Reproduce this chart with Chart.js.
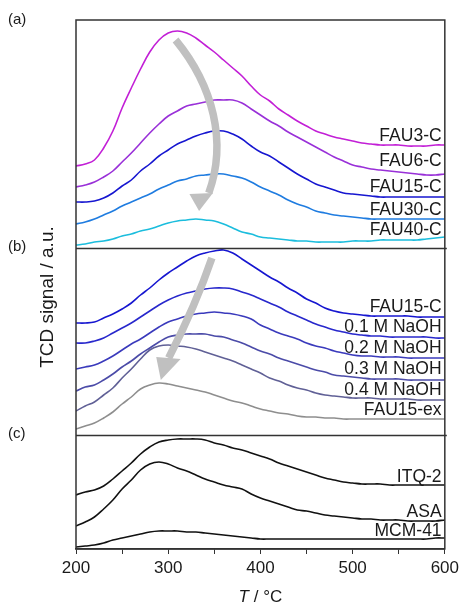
<!DOCTYPE html>
<html>
<head>
<meta charset="utf-8">
<script src="https://cdn.jsdelivr.net/npm/chart.js@4.4.1/dist/chart.umd.min.js"></script>
<style>
  html, body { margin: 0; padding: 0; background: #fff; }
  .canvas-container { position: relative; width: 463px; height: 605px; }
</style>
</head>
<body>
<div class="canvas-container"><canvas id="tpd"></canvas></div>
<script>
// temperature grid (°C)
const temps = [200, 210, 220, 230, 240, 250, 260, 270, 280, 290, 300, 310, 320, 330, 340, 350, 360, 370, 380, 390, 400,
  410, 420, 430, 440, 450, 460, 470, 480, 490, 500, 510, 520, 530, 540, 550, 560, 570, 580, 590, 600];
const xTicks = [200, 300, 400, 500, 600];

// (a) FAUx-C, offset traces (a.u.)
const fau3C = [383, 385, 389, 401, 418, 441, 461, 480, 497, 509, 516, 518, 516, 511, 504, 497, 489, 481, 473, 463, 454,
  448, 440, 434, 428, 423, 418, 415, 412, 410, 408, 406, 405, 404, 404, 404, 403, 403, 403, 404, 404];
const fau6C = [362, 364, 367, 372, 378, 387, 396, 406, 416, 425, 433, 438, 443, 445, 447, 449, 449, 449, 446, 440, 434,
  428, 423, 417, 412, 407, 402, 397, 392, 388, 384, 382, 380, 379, 378, 377, 376, 375, 374, 374, 375];
const fau15C = [347, 347, 348, 351, 356, 363, 369, 378, 385, 393, 399, 405, 409, 413, 416, 418, 418, 415, 410, 403, 397,
  393, 387, 381, 375, 370, 365, 362, 359, 356, 355, 354, 353, 352, 352, 352, 352, 352, 352, 352, 352];
const fau30C = [325, 327, 330, 334, 338, 343, 347, 351, 355, 360, 364, 368, 370, 373, 374, 375, 375, 373, 371, 367, 362,
  358, 354, 349, 345, 342, 338, 336, 334, 333, 332, 331, 330, 330, 330, 330, 330, 330, 330, 330, 330];
const fau40C = [304, 305, 307, 308, 310, 313, 315, 318, 320, 323, 326, 328, 329, 330, 329, 328, 325, 321, 317, 315, 312,
  311, 310, 309, 308, 308, 307, 307, 307, 307, 308, 308, 308, 309, 309, 309, 309, 309, 310, 311, 312];

// (b) FAU15-C after NaOH treatment
const fau15Cb = [226, 226, 227, 231, 235, 240, 246, 254, 261, 269, 276, 282, 288, 293, 296, 298, 299, 296, 290, 284, 278,
  272, 267, 261, 256, 250, 246, 241, 238, 236, 235, 234, 233, 233, 233, 233, 233, 232, 232, 232, 232];
const naoh01 = [206, 206, 208, 211, 216, 221, 226, 232, 238, 244, 249, 253, 256, 258, 260, 261, 261, 260, 257, 254, 250,
  246, 242, 237, 233, 229, 225, 222, 219, 217, 215, 214, 213, 213, 212, 212, 212, 212, 212, 211, 211];
const naoh02 = [180, 182, 184, 188, 193, 199, 205, 210, 216, 222, 227, 230, 233, 235, 236, 237, 236, 235, 233, 230, 224,
  220, 216, 213, 210, 206, 203, 201, 198, 196, 194, 193, 193, 192, 192, 192, 191, 191, 191, 191, 191];
const naoh03 = [158, 162, 164, 169, 175, 182, 188, 195, 201, 207, 212, 214, 215, 215, 215, 213, 212, 209, 206, 202, 198,
  195, 191, 188, 185, 182, 179, 177, 174, 173, 172, 171, 170, 170, 170, 170, 169, 169, 169, 169, 169];
const naoh04 = [138, 143, 147, 154, 161, 171, 180, 190, 199, 203, 204, 203, 202, 200, 197, 194, 191, 188, 184, 180, 176,
  171, 168, 164, 161, 159, 156, 154, 153, 152, 151, 151, 151, 150, 150, 150, 150, 149, 149, 149, 149];
const fau15ex = [120, 123, 126, 131, 137, 145, 152, 160, 164, 166, 165, 163, 161, 159, 157, 154, 151, 148, 146, 143, 140,
  138, 136, 135, 133, 132, 132, 131, 131, 130, 130, 130, 130, 130, 130, 130, 130, 130, 130, 130, 130];

// (c) reference materials
const itq2 = [54, 57, 59, 63, 70, 78, 86, 95, 102, 107, 109, 110, 110, 110, 109, 106, 104, 101, 99, 96, 93,
  90, 86, 83, 80, 77, 74, 71, 69, 67, 66, 65, 65, 65, 64, 64, 64, 64, 64, 64, 64];
const asa = [23, 27, 32, 40, 49, 60, 69, 79, 85, 87, 85, 81, 78, 74, 70, 67, 64, 62, 60, 55, 51,
  48, 45, 42, 39, 38, 36, 34, 33, 32, 31, 30, 30, 29, 29, 29, 28, 28, 28, 28, 29];
const mcm41 = [2, 3, 4, 6, 9, 11, 13, 15, 17, 18, 18, 18, 17, 17, 16, 15, 14, 13, 12, 11, 10,
  10, 10, 10, 10, 10, 10, 10, 10, 10, 10, 10, 10, 10, 10, 10, 10, 10, 10, 11, 11];

// panel borders (a/b, b/c) on the signal axis
const panelBreaks = [301, 114];

const series = [
  { name: 'FAU3-C', data: fau3C, color: '#c21fd6', lift: 9 },
  { name: 'FAU6-C', data: fau6C, color: '#9930d8', lift: 13 },
  { name: 'FAU15-C', data: fau15C, color: '#1616d0', lift: 10 },
  { name: 'FAU30-C', data: fau30C, color: '#1f7ce0', lift: 9 },
  { name: 'FAU40-C', data: fau40C, color: '#1bbddd', lift: 7 },
  { name: 'FAU15-C', data: fau15Cb, color: '#1616d0', lift: 10 },
  { name: '0.1 M NaOH', data: naoh01, color: '#2828cc', lift: 11 },
  { name: '0.2 M NaOH', data: naoh02, color: '#3a3abc', lift: 10 },
  { name: '0.3 M NaOH', data: naoh03, color: '#4b4ba8', lift: 11 },
  { name: '0.4 M NaOH', data: naoh04, color: '#606096', lift: 10 },
  { name: 'FAU15-ex', data: fau15ex, color: '#8e8e8e', lift: 9 },
  { name: 'ITQ-2', data: itq2, color: '#111111', lift: 8 },
  { name: 'ASA', data: asa, color: '#111111', lift: 8 },
  { name: 'MCM-41', data: mcm41, color: '#111111', lift: 7 },
];

const FONT = '"Liberation Sans", Arial, sans-serif';

function drawArrow(ctx, x, y, shaft, head) {
  const p = shaft.map(([t, v]) => [x.getPixelForValue(t), y.getPixelForValue(v)]);
  ctx.strokeStyle = '#c0c0c0';
  ctx.fillStyle = '#c0c0c0';
  ctx.lineWidth = 7.5;
  ctx.lineCap = 'butt';
  ctx.beginPath();
  ctx.moveTo(p[0][0], p[0][1]);
  if (p.length === 4) ctx.bezierCurveTo(p[1][0], p[1][1], p[2][0], p[2][1], p[3][0], p[3][1]);
  else ctx.quadraticCurveTo(p[1][0], p[1][1], p[2][0], p[2][1]);
  ctx.stroke();
  ctx.beginPath();
  head.forEach(([t, v], i) => {
    const px = x.getPixelForValue(t), py = y.getPixelForValue(v);
    if (i === 0) ctx.moveTo(px, py); else ctx.lineTo(px, py);
  });
  ctx.closePath();
  ctx.fill();
}

const decor = {
  id: 'decor',
  afterDatasetsDraw(chart) {
    const { ctx, chartArea: ca, scales: { x, y } } = chart;
    ctx.save();

    // grey trend arrows
    drawArrow(ctx, x, y,
      [[308, 509], [349, 463], [364, 407], [344, 356]],
      [[323, 355], [348.5, 356], [333.5, 338]]);
    drawArrow(ctx, x, y,
      [[347.4, 291], [330, 244], [300.5, 191]],
      [[287, 192], [313.5, 190], [292, 169]]);

    // frame and panel separators
    ctx.strokeStyle = '#333';
    ctx.lineWidth = 1.5;
    ctx.strokeRect(ca.left, ca.top, ca.right - ca.left, ca.bottom - ca.top);
    panelBreaks.forEach(v => {
      const py = Math.round(y.getPixelForValue(v)) + 0.5;
      ctx.beginPath();
      ctx.moveTo(ca.left, py);
      ctx.lineTo(ca.right + 2, py);
      ctx.stroke();
    });

    // series names at the right end of each trace
    ctx.fillStyle = '#1a1a1a';
    ctx.font = '17.5px ' + FONT;
    ctx.textAlign = 'right';
    ctx.textBaseline = 'middle';
    const lx = x.getPixelForValue(596.5);
    series.forEach(s => {
      const last = s.data[s.data.length - 1];
      ctx.fillText(s.name, lx, y.getPixelForValue(last) - s.lift);
    });

    // panel letters
    ctx.textAlign = 'left';
    ctx.font = '15px ' + FONT;
    ctx.fillText('(a)', 8, ca.top);
    panelBreaks.forEach((v, i) => ctx.fillText(['(b)', '(c)'][i], 8, y.getPixelForValue(v) - 1));

    // y title
    ctx.save();
    ctx.translate(47.5, 297);
    ctx.rotate(-Math.PI / 2);
    ctx.textAlign = 'center';
    ctx.font = '19px ' + FONT;
    ctx.fillText('TCD signal / a.u.', 0, 0);
    ctx.restore();

    // x title with italic T
    ctx.font = 'italic 17px ' + FONT;
    const wT = ctx.measureText('T').width;
    ctx.font = '17px ' + FONT;
    const wRest = ctx.measureText(' / °C').width;
    const cx = (ca.left + ca.right) / 2;
    const start = cx - (wT + wRest) / 2;
    ctx.textAlign = 'left';
    ctx.font = 'italic 17px ' + FONT;
    ctx.fillText('T', start, 597);
    ctx.font = '17px ' + FONT;
    ctx.fillText(' / °C', start + wT, 597);

    ctx.restore();
  }
};

new Chart(document.getElementById('tpd'), {
  type: 'line',
  data: {
    labels: temps,
    datasets: series.map(s => ({
      label: s.name,
      data: s.data.map((v, i) => ({ x: temps[i], y: v })),
      borderColor: s.color,
      borderWidth: 1.6,
      pointRadius: 0,
      fill: false,
      tension: 0.4,
    })),
  },
  options: {
    responsive: true,
    maintainAspectRatio: false,
    devicePixelRatio: 1,
    animation: false,
    layout: { padding: { left: 76, right: 17, top: 20, bottom: 0 } },
    plugins: { legend: { display: false }, tooltip: { enabled: false } },
    scales: {
      x: {
        type: 'linear',
        min: 200,
        max: 600,
        afterFit: scale => { scale.height = 56; },
        border: { display: true, color: '#333', width: 1.5 },
        grid: { drawOnChartArea: false, drawTicks: true, tickLength: 5, color: '#333', lineWidth: 1 },
        ticks: {
          stepSize: 50,
          autoSkip: false,
          maxRotation: 0,
          padding: 4,
          color: '#1a1a1a',
          font: { family: FONT, size: 17 },
          callback: v => (xTicks.includes(v) ? String(v) : ''),
        },
      },
      y: { display: false, min: 0, max: 529 },
    },
  },
  plugins: [decor],
});
</script>
</body>
</html>
